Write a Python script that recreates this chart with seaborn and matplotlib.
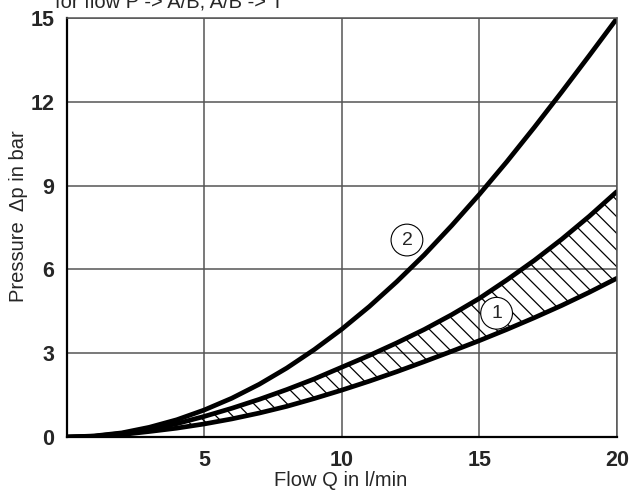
import seaborn as sns
import pandas as pd
import matplotlib.pyplot as plt

# values
flow = [0, 1, 2, 3, 4, 5, 6, 7, 8, 9, 10, 11, 12, 13, 14, 15, 16, 17, 18, 19, 20]
curve2 = [0, 0.04, 0.15, 0.35, 0.62, 0.97, 1.39, 1.89, 2.47, 3.13, 3.86,
          4.67, 5.56, 6.52, 7.57, 8.68, 9.85, 11.08, 12.35, 13.65, 14.97]
curve1_upper = [0, 0.03, 0.13, 0.28, 0.48, 0.74, 1.03, 1.35, 1.7, 2.08, 2.5,
                2.92, 3.37, 3.85, 4.38, 4.96, 5.62, 6.32, 7.08, 7.9, 8.78]
curve1_lower = [0, 0.02, 0.09, 0.2, 0.32, 0.47, 0.65, 0.86, 1.1, 1.38, 1.68,
                2.0, 2.34, 2.7, 3.07, 3.45, 3.85, 4.27, 4.71, 5.18, 5.68]
x_ticks = [5, 10, 15, 20]
y_ticks = [0, 3, 6, 9, 12, 15]

df = pd.DataFrame({'flow': flow, 'c2': curve2, 'up': curve1_upper, 'lo': curve1_lower})

sns.set_style('white')
plt.rcParams['font.family'] = ['Liberation Sans', 'DejaVu Sans']
plt.rcParams['hatch.linewidth'] = 0.9

fig = plt.figure(figsize=(6.3, 4.95), dpi=100)
ax = fig.add_axes([0.106, 0.117, 0.873, 0.847])

# hatched band for curve 1
ax.fill_between(df['flow'], df['lo'], df['up'], facecolor='none',
                edgecolor='black', hatch='\\\\', linewidth=0)
for col in ['c2', 'up', 'lo']:
    sns.lineplot(data=df, x='flow', y=col, ax=ax, color='black', lw=3.4,
                 sort=False, solid_capstyle='round')

ax.set_xlim(0, 20)
ax.set_ylim(0, 15)
ax.set_xticks(x_ticks)
ax.set_yticks(y_ticks)
ax.set_xticklabels([str(t) for t in x_ticks], fontweight='bold', fontsize=15.5)
ax.set_yticklabels([str(t) for t in y_ticks], fontweight='bold', fontsize=15.5)
ax.tick_params(length=0, pad=9)
ax.grid(True, color='#555555', lw=1.1)
ax.set_xlabel('')
ax.set_ylabel('')
for side in ['left', 'bottom']:
    ax.spines[side].set_color('black')
    ax.spines[side].set_linewidth(1.6)
for side in ['top', 'right']:
    ax.spines[side].set_color('#555555')
    ax.spines[side].set_linewidth(1.1)

circ = dict(boxstyle='circle,pad=0.38', fc='white', ec='black', lw=0.8)
ax.text(12.37, 7.05, '2', ha='center', va='center', fontsize=14, bbox=circ)
ax.text(15.63, 4.43, '1', ha='center', va='center', fontsize=14, bbox=circ)

fig.text(0.087, 0.984, 'for flow P -> A/B, A/B -> T', fontsize=14.5, va='baseline')
fig.text(0.029, 0.563, 'Pressure  \u0394p in bar', fontsize=14.5, rotation=90,
         ha='center', va='center')
fig.text(0.541, 0.030, 'Flow Q in l/min', fontsize=14.5, ha='center', va='center')

plt.savefig('out.png', dpi=100)
